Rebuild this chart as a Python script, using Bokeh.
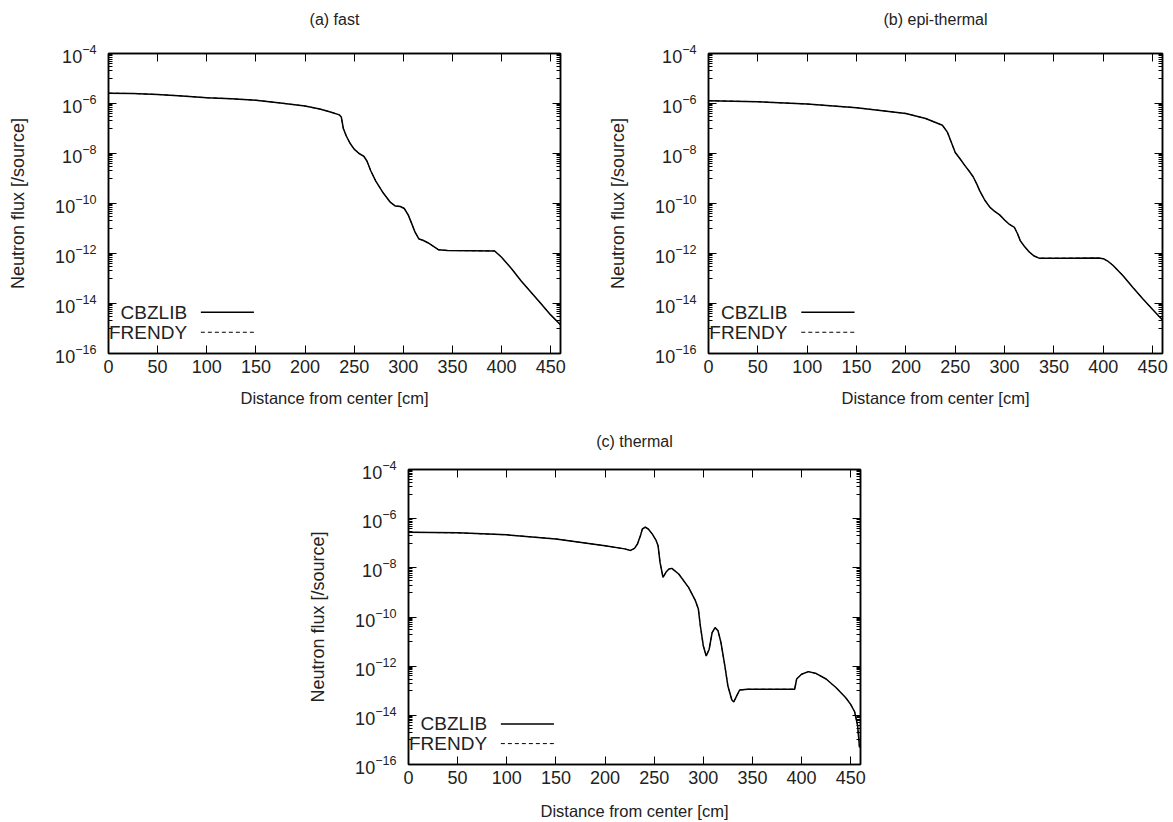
from bokeh.plotting import figure
from bokeh.layouts import column, row, Spacer
from bokeh.models import (FixedTicker, LinearAxis, LogAxis, Label, Arrow,
                          ColumnDataSource, CustomJSTickFormatter)
from bokeh.embed import file_html
from bokeh.resources import INLINE

# ---------------- data ----------------
X_TICKS = [0, 50, 100, 150, 200, 250, 300, 350, 400, 450]
Y_MAJOR = [1e-16, 1e-14, 1e-12, 1e-10, 1e-8, 1e-6, 1e-4]
Y_MINOR = [k * 10.0 ** e for e in [-15, -13, -11, -9, -7, -5] for k in range(1, 10)]

FAST_X = [0, 25, 50, 75, 100, 125, 150, 175, 200, 215, 225, 235, 237, 239, 242,
          246, 250, 255, 260, 263, 267, 272, 280, 287, 292, 297, 301, 305, 308,
          312, 316, 320, 325, 330, 336, 345, 370, 393, 400, 410, 420, 430, 440,
          450, 460]
FAST_CBZLIB = [2.6e-6, 2.5e-6, 2.3e-6, 2.0e-6, 1.7e-6, 1.55e-6, 1.35e-6, 1.05e-6,
               7.9e-7, 6.0e-7, 4.7e-7, 3.5e-7, 2.8e-7, 1.0e-7, 5.0e-8, 2.5e-8,
               1.5e-8, 1.0e-8, 7.6e-9, 5.0e-9, 2.0e-9, 7.9e-10, 2.5e-10, 1.1e-10,
               7.9e-11, 7.6e-11, 6.3e-11, 3.5e-11, 1.8e-11, 7.1e-12, 3.8e-12,
               3.4e-12, 2.7e-12, 2.0e-12, 1.4e-12, 1.32e-12, 1.29e-12, 1.26e-12,
               7.1e-13, 2.5e-13, 7.9e-14, 2.8e-14, 1.0e-14, 3.5e-15, 1.4e-15]
FAST_FRENDY = list(FAST_CBZLIB)

EPI_X = [0, 50, 100, 150, 200, 220, 237, 242, 246, 250, 255, 260, 264, 268, 272,
         275, 280, 285, 290, 295, 300, 305, 310, 313, 316, 320, 325, 330, 335,
         360, 395, 400, 405, 410, 420, 430, 440, 450, 460]
EPI_CBZLIB = [1.3e-6, 1.18e-6, 9.5e-7, 6.8e-7, 4.0e-7, 2.5e-7, 1.35e-7, 7.2e-8,
              2.8e-8, 1.1e-8, 6.0e-9, 3.2e-9, 2.0e-9, 1.2e-9, 5.8e-10, 3.1e-10,
              1.35e-10, 7.2e-11, 4.8e-11, 3.5e-11, 2.2e-11, 1.45e-11, 1.1e-11,
              6.3e-12, 3.2e-12, 1.95e-12, 1.15e-12, 7.9e-13, 6.5e-13, 6.5e-13,
              6.6e-13, 6.2e-13, 4.8e-13, 3.3e-13, 1.3e-13, 4.4e-14, 1.55e-14,
              5.8e-15, 2.2e-15]
EPI_FRENDY = list(EPI_CBZLIB)

TH_X = [0, 50, 100, 150, 200, 220, 226, 230, 233, 236, 238, 241, 244, 248, 252,
        254, 256, 259, 262, 265, 268, 275, 285, 292, 295, 297, 300, 303, 306,
        309, 312, 315, 318, 322, 325, 329, 331, 334, 337, 345, 393, 395, 400,
        407, 415, 425, 435, 445, 450, 454, 457, 459]
TH_CBZLIB = [2.8e-7, 2.65e-7, 2.2e-7, 1.5e-7, 7.9e-8, 5.9e-8, 5.1e-8, 6.2e-8,
             9.3e-8, 2.0e-7, 3.8e-7, 4.5e-7, 3.8e-7, 2.4e-7, 1.3e-7, 7.9e-8,
             1.66e-8, 4.1e-9, 6.6e-9, 8.9e-9, 9.5e-9, 5.6e-9, 1.6e-9, 4.6e-10,
             2.1e-10, 4.4e-11, 6.8e-12, 2.6e-12, 4.9e-12, 2.3e-11, 3.7e-11,
             2.75e-11, 9.1e-12, 1.0e-12, 1.6e-13, 4.3e-14, 3.5e-14, 6.2e-14,
             1.07e-13, 1.15e-13, 1.15e-13, 3.0e-13, 4.7e-13, 6.0e-13, 5.0e-13,
             3.0e-13, 1.35e-13, 5.2e-14, 2.8e-14, 1.4e-14, 4.0e-15, 5.0e-16]
TH_FRENDY = list(TH_CBZLIB)

PANELS = [
    ("(a) fast", FAST_X, FAST_CBZLIB, FAST_FRENDY),
    ("(b) epi-thermal", EPI_X, EPI_CBZLIB, EPI_FRENDY),
    ("(c) thermal", TH_X, TH_CBZLIB, TH_FRENDY),
]
SERIES = ["CBZLIB", "FRENDY"]

FONT = "Liberation Sans"
X_RANGE = (0, 460)
Y_RANGE = (1e-16, 1e-4)


def make_panel(title, xs, ys1, ys2, width, height, bl, br, bt, bb, xlab_gap,
               title_gap):
    p = figure(width=width, height=height, x_range=X_RANGE, y_range=Y_RANGE,
               y_axis_type="log", output_backend="svg", toolbar_location=None,
               min_border_left=bl, min_border_right=br, min_border_top=bt,
               min_border_bottom=bb, title=None)
    p.grid.visible = False
    p.outline_line_color = "black"
    p.outline_line_width = 1.5
    p.background_fill_color = "white"
    p.border_fill_color = "white"

    xt = FixedTicker(ticks=X_TICKS, minor_ticks=[])
    yt = FixedTicker(ticks=Y_MAJOR, minor_ticks=Y_MINOR)

    xa = p.xaxis[0]
    ya = p.yaxis[0]
    xa.ticker = xt
    ya.ticker = yt
    xa.axis_label = "Distance from center [cm]"
    ya.axis_label = "Neutron flux [/source]"
    for ax in (xa, ya):
        ax.axis_label_text_font = FONT
        ax.axis_label_text_font_style = "normal"
        ax.axis_label_text_color = "#222222"
        ax.major_label_text_font = FONT
        ax.major_label_text_font_size = "18px"
        ax.major_label_text_color = "#222222"
        ax.axis_line_color = "black"
        ax.axis_line_width = 1.5
        ax.major_tick_in = 8
        ax.major_tick_out = 0
        ax.minor_tick_in = 4
        ax.minor_tick_out = 0
        ax.major_tick_line_color = "black"
        ax.minor_tick_line_color = "black"
    xa.axis_label_text_font_size = "16.5px"
    ya.axis_label_text_font_size = "18px"
    xa.major_label_standoff = 6
    xa.axis_label_standoff = xlab_gap
    ya.major_label_standoff = 12
    ya.axis_label_standoff = 24

    blank = CustomJSTickFormatter(code="return ''")
    # mirrored tick marks on top/right; the top axis carries the panel title
    top = LinearAxis(ticker=xt, formatter=blank, major_label_text_font_size="1px",
                     major_label_standoff=0, major_tick_in=8, major_tick_out=0,
                     minor_tick_in=0, minor_tick_out=0, axis_line_width=1.5,
                     axis_label=title, axis_label_standoff=title_gap,
                     axis_label_text_font=FONT, axis_label_text_font_size="16px",
                     axis_label_text_font_style="normal",
                     axis_label_text_color="#222222")
    right = LogAxis(ticker=yt, formatter=blank, major_label_text_font_size="1px",
                    major_label_standoff=0, major_tick_in=8, major_tick_out=0,
                    minor_tick_in=4, minor_tick_out=0, axis_line_width=1.5)
    p.add_layout(top, "above")
    p.add_layout(right, "right")

    src = ColumnDataSource(dict(x=xs, cbz=ys1, fre=ys2))
    p.line("x", "cbz", source=src, line_color="black", line_width=1.5)
    p.line("x", "fre", source=src, line_color="black", line_width=1.0,
           line_dash="4 3")

    # gnuplot-style key: label right-aligned, line sample to its right
    key_y = [10 ** -14.35, 10 ** -15.15]
    dashes = ["solid", "4 3"]
    for name, yk, dash in zip(SERIES, key_y, dashes):
        p.add_layout(Label(x=80, y=yk, text=name, text_align="right",
                           text_baseline="middle", text_font=FONT,
                           text_font_size="19px", text_color="#222222"))
        p.add_layout(Arrow(end=None, x_start=94, y_start=yk, x_end=148, y_end=yk,
                           line_color="black",
                           line_width=1.5 if dash == "solid" else 1.0,
                           line_dash=dash))
    return p


pa = make_panel(*PANELS[0], width=600, height=413, bl=108, br=40, bt=53, bb=60,
                xlab_gap=13, title_gap=26)
pb = make_panel(*PANELS[1], width=570, height=413, bl=108, br=8, bt=53, bb=60,
                xlab_gap=13, title_gap=26)
pc = make_panel(*PANELS[2], width=600, height=409, bl=108, br=40, bt=56, bb=56,
                xlab_gap=15, title_gap=20)

layout = column(row(pa, pb), row(Spacer(width=300, height=409), pc))

open("out.html", "w").write(file_html(layout, INLINE, title="Neutron flux"))
